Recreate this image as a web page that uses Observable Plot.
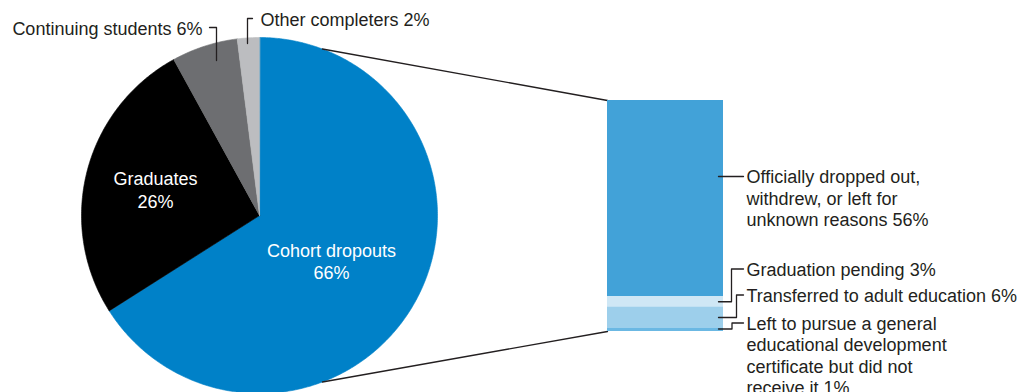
<!DOCTYPE html>
<html>
<head>
<meta charset="utf-8">
<script src="https://cdn.jsdelivr.net/npm/d3@7"></script>
<script src="https://cdn.jsdelivr.net/npm/@observablehq/plot@0.6"></script>
<style>
  html, body { margin: 0; padding: 0; background: #fff; }
  #chart svg { display: block; }
</style>
</head>
<body>
<div id="chart"></div>
<script>
// ---- Data ----
const pieCategories = ["Cohort dropouts", "Graduates", "Continuing students", "Other completers"];
const pieValues = [66, 26, 6, 2];
const pieColors = ["#0081c8", "#000000", "#6d6e71", "#bcbdc0"];

const barCategories = [
  "Officially dropped out, withdrew, or left for unknown reasons",
  "Graduation pending",
  "Transferred to adult education",
  "Left to pursue a general educational development certificate but did not receive it"
];
const barValues = [56, 3, 6, 1];
const barColors = ["#42a2d8", "#cfe7f5", "#9dcfeb", "#6bb8e3"];
const barLabelLines = [
  ["Officially dropped out,", "withdrew, or left for", "unknown reasons 56%"],
  ["Graduation pending 3%"],
  ["Transferred to adult education 6%"],
  ["Left to pursue a general", "educational development", "certificate but did not", "receive it 1%"]
];

// ---- Layout ----
const W = 1022, H = 392;
const cx = 259, cy = 215, R = 178;
const barX0 = 607, barX1 = 723, barTop = 100, pxPerPct = 3.5;
const connectorAngle = 20.7 * Math.PI / 180;
const font = "Liberation Sans, Arial, sans-serif";
const fs = 18, lh = 21.5;
const ink = "#231f20";

// pie slices via d3.pie (0 = 12 o'clock, clockwise)
const arcs = d3.pie().sort(null).value(d => d.value)(
  pieCategories.map((c, i) => ({category: c, value: pieValues[i]}))
);
const pt = a => ({x: cx + R * Math.sin(a), y: cy - R * Math.cos(a)});
const slicePts = [];
for (const a of arcs) {
  const c = a.data.category;
  slicePts.push({category: c, x: cx, y: cy});
  const n = Math.max(2, Math.ceil((a.endAngle - a.startAngle) / 0.01));
  for (let i = 0; i <= n; i++) {
    const ang = a.startAngle + (a.endAngle - a.startAngle) * i / n;
    slicePts.push({category: c, ...pt(ang)});
  }
}

// stacked bar segments
const ends = d3.cumsum(barValues);
const barData = barCategories.map((c, i) => ({
  category: c,
  y1: barTop + (ends[i] - barValues[i]) * pxPerPct,
  y2: barTop + ends[i] * pxPerPct
}));
const barBottom = barTop + ends[ends.length - 1] * pxPerPct;

// connectors from the dropouts slice to the bar
const pTop = pt(connectorAngle), pBot = pt(Math.PI - connectorAngle);
const connectors = [
  {k: "top", x: pTop.x, y: pTop.y}, {k: "top", x: barX0, y: barTop},
  {k: "bot", x: pBot.x, y: pBot.y}, {k: "bot", x: barX0, y: barBottom}
];

// right labels: first-line centre y and leader elbow x
const labelFirstY = [176, 268.5, 294.5, 322.5];
const elbowX = [null, 731, 736, 731.5];
const leaderStartX = 718, leaderEndX = 743, textX = 746;
const leaders = [];
const barTexts = [];
barData.forEach((d, i) => {
  const ty = labelFirstY[i];
  const lines = barLabelLines[i];
  barTexts.push({text: lines.join("\n"), x: textX, y: ty + (lines.length - 1) * lh / 2});
  if (elbowX[i] == null) {
    leaders.push({k: i, x: leaderStartX, y: ty}, {k: i, x: leaderEndX, y: ty});
  } else {
    const sy = i === 3 ? d.y2 - 2.5 : (d.y1 + d.y2) / 2;
    leaders.push({k: i, x: leaderStartX, y: sy}, {k: i, x: elbowX[i], y: sy},
                 {k: i, x: elbowX[i], y: ty}, {k: i, x: leaderEndX, y: ty});
  }
});

// pie outside labels
const pieOutLeft = [{text: `${pieCategories[2]} ${pieValues[2]}%`, x: 202, y: 29}];
const pieOutRight = [{text: `${pieCategories[3]} ${pieValues[3]}%`, x: 260, y: 19.5}];
const pieLeaders = [
  {k: 0, x: 209, y: 27}, {k: 0, x: 216, y: 27}, {k: 0, x: 216, y: 60},
  {k: 1, x: 252, y: 18}, {k: 1, x: 247, y: 18}, {k: 1, x: 247, y: 43}
];
const pieInLabels = [
  {text: `${pieCategories[0]}\n${pieValues[0]}%`, x: 331, y: 260.5},
  {text: `${pieCategories[1]}\n${pieValues[1]}%`, x: 155, y: 189}
];

const chart = Plot.plot({
  width: W, height: H, margin: 0,
  style: {fontFamily: font, background: "#fff"},
  x: {type: "linear", domain: [0, W], range: [0, W], axis: null},
  y: {type: "linear", domain: [0, H], range: [0, H], axis: null},
  color: {type: "ordinal", domain: [...pieCategories, ...barCategories], range: [...pieColors, ...barColors]},
  marks: [
    Plot.line(slicePts, {x: "x", y: "y", z: "category", fill: "category", stroke: "category", strokeWidth: 0.6, curve: "linear-closed"}),
    Plot.line(connectors, {x: "x", y: "y", z: "k", stroke: ink, strokeWidth: 1.3}),
    Plot.rect(barData, {x1: () => barX0, x2: () => barX1, y1: "y1", y2: "y2", fill: "category"}),
    Plot.line(leaders, {x: "x", y: "y", z: "k", stroke: ink, strokeWidth: 1.3}),
    Plot.line(pieLeaders, {x: "x", y: "y", z: "k", stroke: ink, strokeWidth: 1.3}),
    Plot.text(barTexts, {x: "x", y: "y", text: "text", textAnchor: "start", lineAnchor: "middle", lineHeight: lh / fs, fontSize: fs, fill: ink}),
    Plot.text(pieOutLeft, {x: "x", y: "y", text: "text", textAnchor: "end", fontSize: fs, fill: ink}),
    Plot.text(pieOutRight, {x: "x", y: "y", text: "text", textAnchor: "start", fontSize: fs, fill: ink}),
    Plot.text(pieInLabels, {x: "x", y: "y", text: "text", textAnchor: "middle", lineAnchor: "middle", lineHeight: 22.5 / fs, fontSize: fs, fill: "#fff"})
  ]
});
document.getElementById("chart").appendChild(chart);
</script>
</body>
</html>
